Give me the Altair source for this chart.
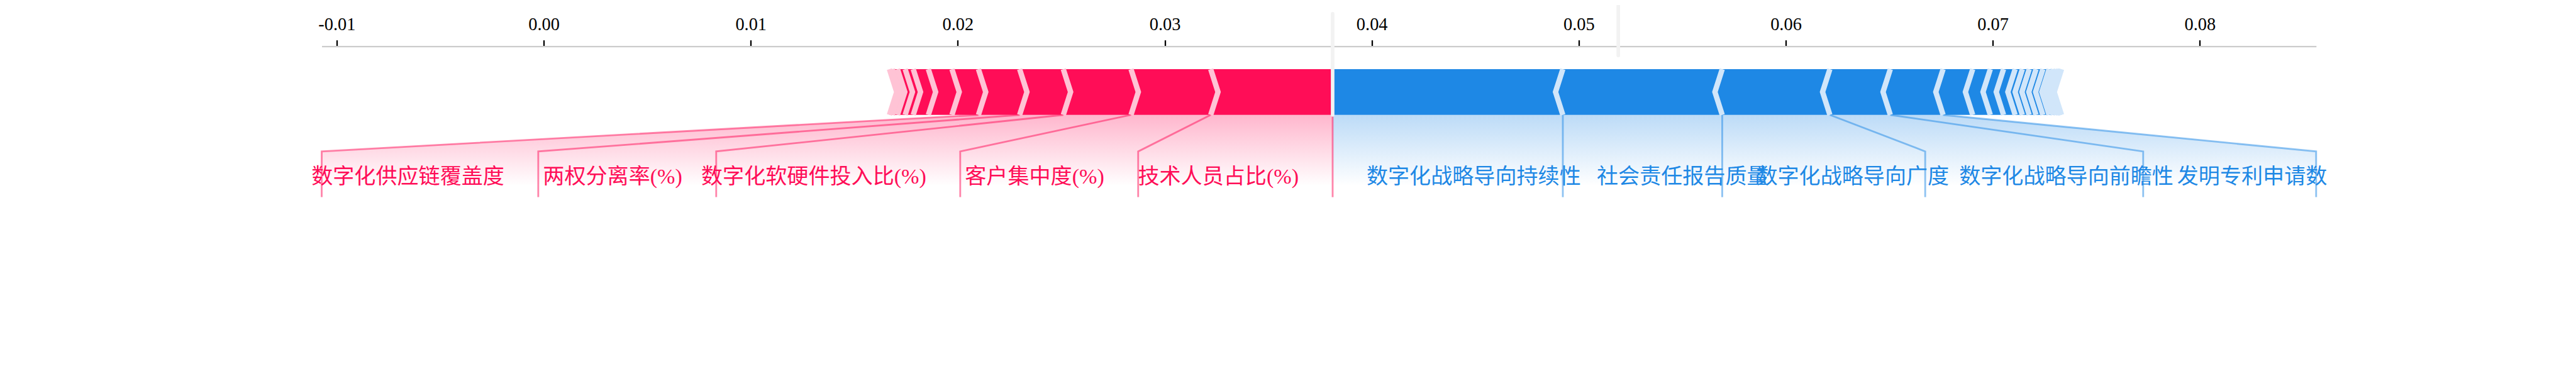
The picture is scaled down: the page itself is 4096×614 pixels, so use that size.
import altair as alt
import numpy as np
import pandas as pd

# ---------------- data ----------------
out_value = 0.03811  # model output f(x)

pos_names = ["技术人员占比(%)", "客户集中度(%)", "数字化软硬件投入比(%)", "两权分离率(%)",
             "数字化供应链覆盖度", "正向特征6", "正向特征7", "正向特征8", "正向特征9",
             "正向特征10", "正向特征11", "正向特征12"]
pos_values = [0.00589, 0.00385, 0.00327, 0.00211, 0.00199, 0.00128, 0.00114,
              0.00073, 0.00039, 0.00037, 0.00025, 0.00014]

neg_names = ["数字化战略导向持续性", "社会责任报告质量", "数字化战略导向广度",
             "数字化战略导向前瞻性", "发明专利申请数", "负向特征6", "负向特征7",
             "负向特征8", "负向特征9", "负向特征10", "负向特征11", "负向特征12",
             "负向特征13", "负向特征14", "负向特征15", "负向特征16", "负向特征17",
             "负向特征18", "负向特征19"]
neg_values = [0.01112, 0.00770, 0.00520, 0.00292, 0.00255, 0.00143, 0.00085,
              0.00064, 0.00056, 0.00035, 0.00033, 0.00033, 0.00033, 0.00030,
              0.00020, 0.00015, 0.00012, 0.00008, 0.00005]

tick_values = [-0.01, 0.00, 0.01, 0.02, 0.03, 0.04, 0.05, 0.06, 0.07, 0.08]

# ---------------- layout / style ----------------
S = 0.682
PLOT_W, PLOT_H = 4650 * S, 693 * S
PAD = {"left": 750 * S - 8, "top": 108 * S - 8, "right": 380, "bottom": 50}
Y_DOMAIN = [-0.5, 0.15]
BAR_H = 0.1
TEXT_OFFSET = 0.00164
POS_GLYPH_W, POS_ASCII_W, NEG_GLYPH_W = 0.000798, 0.000442, 0.000725
MIN_PERC = 0.03
RED, RED_LIGHT = "#FF0D57", "#FFC3D5"
BLUE, BLUE_LIGHT = "#1E88E5", "#D1E6FA"
LABEL_FONT = "'Liberation Serif', 'Noto Sans CJK SC'"

pos_arr, neg_arr = np.array(pos_values), np.array(neg_values)
total_pos, total_neg = pos_arr.sum(), neg_arr.sum()
base_value = out_value - total_pos + total_neg
pos_bounds = out_value - np.cumsum(pos_arr)
neg_bounds = out_value + np.cumsum(neg_arr)
padding = max(total_pos, total_neg) * 0.2
xmin0 = min(pos_bounds.min(), base_value) - padding
xmax0 = max(neg_bounds.max(), base_value) + padding
sep_w = (xmax0 - xmin0) / 200

# ---------------- bars and separators ----------------
bar_rows, sep_rows = [], []
prev = out_value
for i, b in enumerate(pos_bounds):
    left, right = b, prev
    il = sep_w if i == 0 else 0.9 * sep_w
    ir = 0 if i == 0 else 0.9 * sep_w
    for y, dl, dr in [(0, 0, 0), (BAR_H / 2, il, ir), (BAR_H, 0, 0)]:
        bar_rows.append(dict(seg=f"p{i}", y=y, x=left + dl, x2=right + dr, col=RED))
    for k, (xx, yy) in enumerate([(left, 0), (left + sep_w, BAR_H / 2), (left, BAR_H)]):
        sep_rows.append(dict(seg=f"p{i}", k=k, x=xx, y=yy, col=RED_LIGHT))
    prev = b
prev = out_value
for i, b in enumerate(neg_bounds):
    left, right = prev, b
    il = 0 if i == 0 else -0.9 * sep_w
    ir = -sep_w if i == 0 else -0.9 * sep_w
    for y, dl, dr in [(0, 0, 0), (BAR_H / 2, il, ir), (BAR_H, 0, 0)]:
        bar_rows.append(dict(seg=f"n{i}", y=y, x=left + dl, x2=right + dr, col=BLUE))
    for k, (xx, yy) in enumerate([(right, 0), (right - sep_w, BAR_H / 2), (right, BAR_H)]):
        sep_rows.append(dict(seg=f"n{i}", k=k, x=xx, y=yy, col=BLUE_LIGHT))
    prev = b
bars_df, seps_df = pd.DataFrame(bar_rows), pd.DataFrame(sep_rows)

# ---------------- labels (force-plot layout) ----------------
total_effect = total_pos + total_neg


def text_width(name, glyph_w, ascii_w):
    return sum(ascii_w if ord(c) < 128 else glyph_w for c in name)


def layout(names, values, bounds, sign, glyph_w, ascii_w, col):
    lines, texts = [], []
    start, pre, box_end = out_value, out_value, out_value
    if sign == 1:
        lines.append([(out_value, 0), (out_value, -0.18)])
    for name, v, b in zip(names, values, bounds):
        if v / total_effect < MIN_PERC:
            break
        tx = start - sign * TEXT_OFFSET
        texts.append(dict(x=tx, y=-0.15, label=name))
        be_ = tx - sign * text_width(name, glyph_w, ascii_w)
        if sign * be_ > sign * b:
            lines.append([(b, 0), (b, -0.18)])
            start = box_end = b
        else:
            box_end = be_ - sign * TEXT_OFFSET
            lines.append([(b, 0), (box_end, -0.08), (box_end, -0.18)])
            start = box_end
        pre = b
    line_rows = [dict(id=f"{col}{j}", k=k, x=p[0], y=p[1], col=col)
                 for j, ln in enumerate(lines) for k, p in enumerate(ln)]
    return line_rows, pd.DataFrame(texts), pre, box_end


pl, pos_text_df, pos_pre, pos_box = layout(pos_names, pos_values, pos_bounds, 1,
                                           POS_GLYPH_W, POS_ASCII_W, RED)
nl, neg_text_df, neg_pre, neg_box = layout(neg_names, neg_values, neg_bounds, -1,
                                           NEG_GLYPH_W, NEG_GLYPH_W, BLUE)
lines_df = pd.DataFrame(pl + nl)

shade_pos_df = pd.DataFrame(dict(y=[0, -0.08, -0.2], x=[pos_pre, pos_box, pos_box],
                                 x2=[out_value] * 3))
shade_neg_df = pd.DataFrame(dict(y=[0, -0.08, -0.2], x=[out_value] * 3,
                                 x2=[neg_pre, neg_box, neg_box]))
rules_df = pd.DataFrame(dict(x=[out_value, base_value], y=[0, 0.13], y2=[0.2213, 0.245]))

x_lo, x_hi = min(xmin0, pos_box), max(xmax0, neg_box)

# ---------------- chart ----------------
x_scale = alt.Scale(domain=[x_lo, x_hi], nice=False, zero=False)
y_scale = alt.Scale(domain=Y_DOMAIN, nice=False, zero=False)
x_axis = alt.Axis(orient="top", values=tick_values, title=None, grid=False,
                  labelExpr="replace(format(datum.value, '.2f'), '\u2212', '-')",
                  labelFont="Liberation Serif", labelFontSize=28.4, labelColor="#000000",
                  labelPadding=10, labelFlush=False, labelOverlap=False,
                  tickColor="#000000", tickSize=10, tickWidth=2.3,
                  domainColor="#cccccc", domainWidth=2.3)


def X(f="x"):
    return alt.X(f"{f}:Q", scale=x_scale, axis=x_axis, title=None)


def Y(f="y"):
    return alt.Y(f"{f}:Q", scale=y_scale, axis=None, title=None)


def grad(c):
    return alt.LinearGradient(gradient="linear", x1=0, x2=0, y1=0, y2=1, stops=[
        alt.GradientStop(color=c, offset=0),
        alt.GradientStop(color="#FFFFFF", offset=0.775),
        alt.GradientStop(color="#FFFFFF", offset=1)])


shade_pos = alt.Chart(shade_pos_df).mark_area(orient="horizontal", fill=grad("#FFB6CD")).encode(
    y=Y(), x=X(), x2="x2:Q")
shade_neg = alt.Chart(shade_neg_df).mark_area(orient="horizontal", fill=grad("#BCDBF7")).encode(
    y=Y(), x=X(), x2="x2:Q")
label_lines = alt.Chart(lines_df).mark_line(strokeWidth=2.84, opacity=0.5, strokeJoin="miter").encode(
    x=X(), y=Y(), detail="id:N", order="k:Q", color=alt.Color("col:N", scale=None))
bars = alt.Chart(bars_df).mark_area(orient="horizontal").encode(
    y=Y(), x=X(), x2="x2:Q", detail="seg:N", color=alt.Color("col:N", scale=None))
seps = alt.Chart(seps_df).mark_line(strokeWidth=8.5, strokeJoin="miter", strokeCap="butt").encode(
    x=X(), y=Y(), detail="seg:N", order="k:Q", color=alt.Color("col:N", scale=None))
rules = alt.Chart(rules_df).mark_rule(color="#F2F2F2", strokeWidth=5.7, strokeCap="round").encode(
    x=X(), y=Y(), y2="y2:Q")
pos_text = alt.Chart(pos_text_df).mark_text(align="right", baseline="alphabetic", font=LABEL_FONT,
                                            fontSize=34.1, color=RED).encode(
    x=X(), y=Y(), text="label:N")
neg_text = alt.Chart(neg_text_df).mark_text(align="left", baseline="alphabetic", font=LABEL_FONT,
                                            fontSize=34.1, color=BLUE).encode(
    x=X(), y=Y(), text="label:N")

chart = alt.layer(shade_pos, shade_neg, label_lines, bars, seps, rules, pos_text, neg_text).properties(
    width=PLOT_W, height=PLOT_H, autosize=alt.AutoSizeParams(type="none"), padding=PAD
).configure_view(stroke=None)

chart.save("out.html", embed_options={"renderer": "svg", "actions": False})
